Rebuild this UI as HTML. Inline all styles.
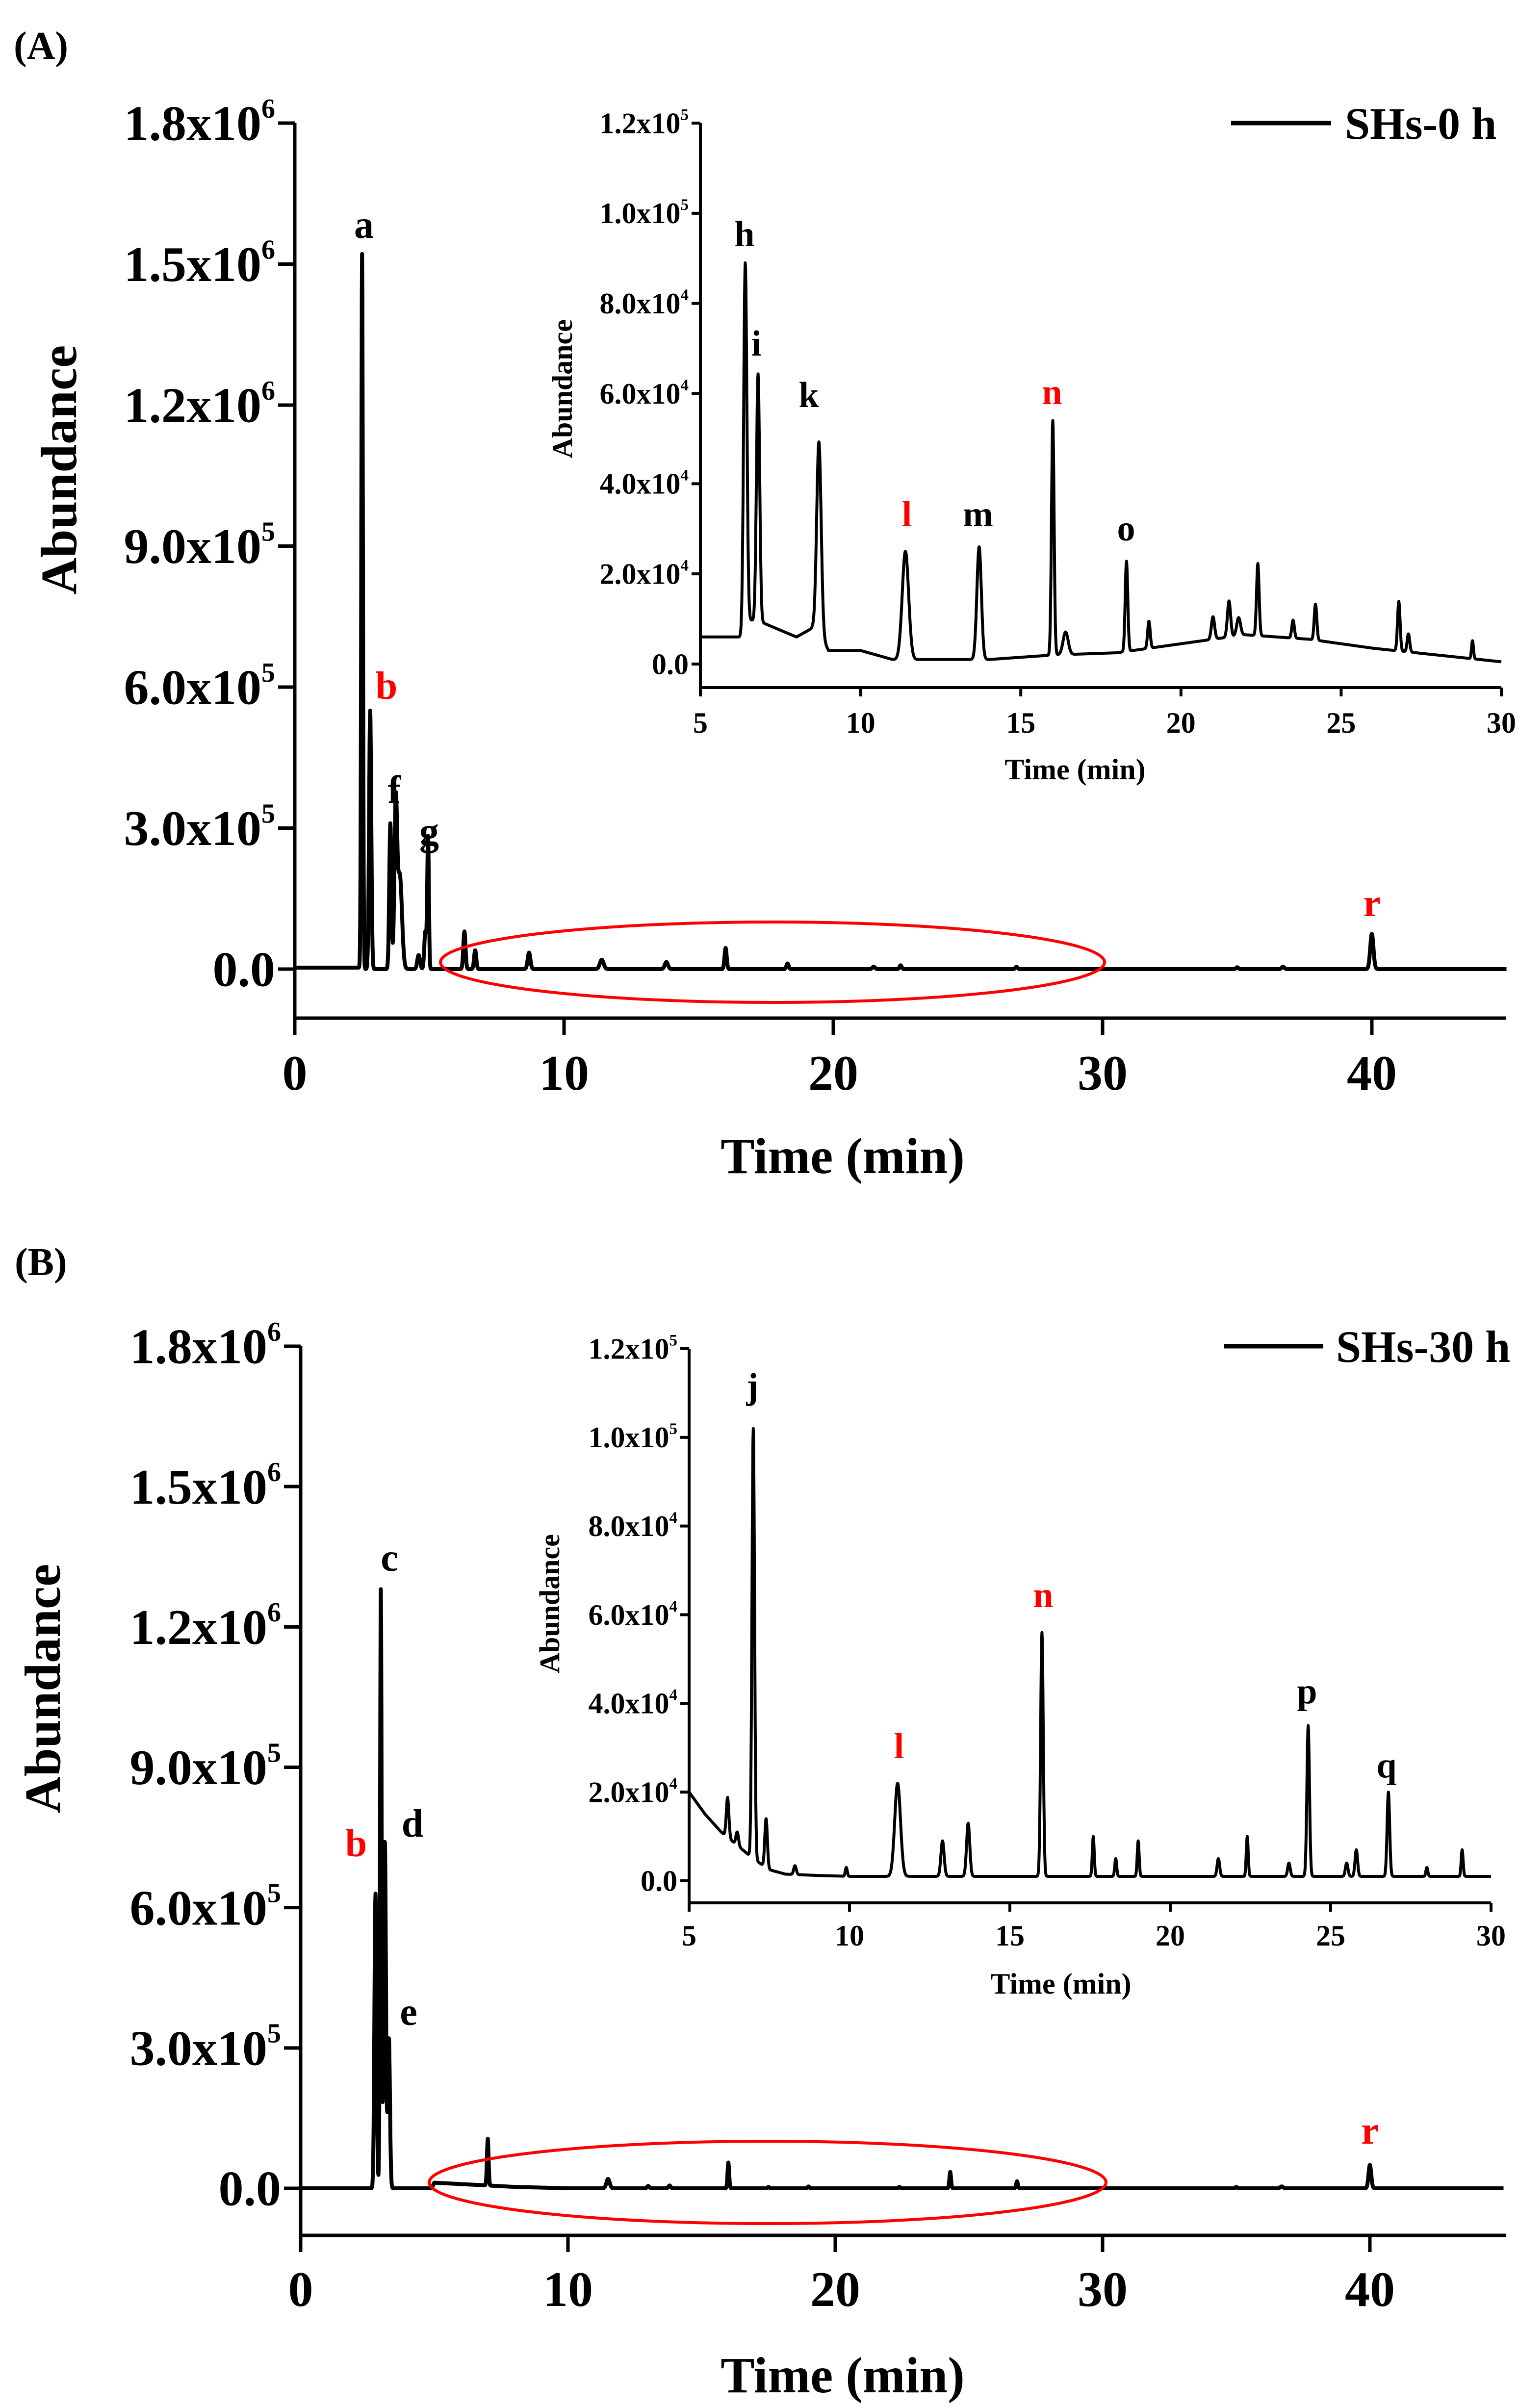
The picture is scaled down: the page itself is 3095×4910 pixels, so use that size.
<!DOCTYPE html>
<html><head><meta charset="utf-8"><style>
html,body{margin:0;padding:0;background:#fff;}
svg{display:block;}
text{font-family:"Liberation Serif",serif;font-weight:bold;}
</style></head><body>
<svg id="fig" width="3095" height="4910" viewBox="0 0 3095 4910" xmlns="http://www.w3.org/2000/svg">
<rect x="0" y="0" width="3095" height="4910" fill="#fff"/>
</svg>
<script>
// ---------- DATA ----------
// Panel A main (abundance units 1e5)
const mainA_peakTimes   = [2.5, 2.8, 3.55, 3.75, 3.9, 4.6, 4.85, 4.95, 6.3, 6.7, 8.7, 11.4, 13.8, 16.0, 18.3, 21.5, 22.5, 26.8, 35.0, 36.7, 40.0];
const mainA_peakHeights = [15.2, 5.5, 3.1, 3.4, 2.0, 0.3, 0.8, 2.8, 0.8, 0.4, 0.35, 0.2, 0.15, 0.45, 0.12, 0.05, 0.08, 0.05, 0.04, 0.05, 0.75];
const mainA_peakWidths  = [0.03, 0.04, 0.04, 0.05, 0.08, 0.05, 0.04, 0.03, 0.04, 0.04, 0.05, 0.07, 0.06, 0.04, 0.04, 0.05, 0.04, 0.04, 0.04, 0.05, 0.06];
const mainA_baseTimes   = [0, 2.4, 2.6, 45];
const mainA_baseValues  = [0.03, 0.03, 0.0, 0.0];
// Panel A inset (units 1e4)
const insetA_peakTimes   = [6.4, 6.8, 8.7, 11.4, 13.7, 16.0, 16.4, 18.3, 19.0, 21.0, 21.5, 21.8, 22.4, 23.5, 24.2, 26.8, 27.1, 29.1];
const insetA_peakHeights = [8.1, 5.5, 4.3, 2.4, 2.5, 5.2, 0.5, 2.0, 0.6, 0.5, 0.8, 0.4, 1.6, 0.4, 0.8, 1.1, 0.4, 0.4];
const insetA_peakWidths  = [0.05, 0.05, 0.07, 0.1, 0.07, 0.04, 0.08, 0.04, 0.04, 0.05, 0.05, 0.06, 0.04, 0.04, 0.04, 0.04, 0.04, 0.03];
const insetA_baseTimes   = [5, 6.35, 6.45, 7, 8, 8.5, 8.85, 9, 10, 11, 12, 14, 16, 18, 20, 22, 24, 26, 28, 30];
const insetA_baseValues  = [0.6, 0.6, 1.0, 0.9, 0.6, 0.8, 0.5, 0.3, 0.3, 0.1, 0.1, 0.1, 0.2, 0.25, 0.45, 0.65, 0.55, 0.35, 0.2, 0.05];
// Panel B main (units 1e5)
const mainB_peakTimes   = [2.8, 3.0, 3.15, 3.3, 7.0, 11.5, 13.0, 13.8, 16.0, 17.5, 19.0, 22.4, 24.3, 26.8, 35.0, 36.7, 40.0];
const mainB_peakHeights = [6.3, 12.8, 7.4, 3.2, 1.0, 0.2, 0.05, 0.06, 0.55, 0.03, 0.04, 0.03, 0.35, 0.15, 0.03, 0.04, 0.5];
const mainB_peakWidths  = [0.04, 0.03, 0.04, 0.04, 0.03, 0.06, 0.04, 0.04, 0.03, 0.03, 0.03, 0.03, 0.03, 0.03, 0.03, 0.05, 0.05];
const mainB_baseTimes   = [0, 4.9, 5.0, 8, 10, 45];
const mainB_baseValues  = [0, 0, 0.12, 0.03, 0, 0];
// Panel B inset (units 1e4)
const insetB_peakTimes   = [6.2, 6.5, 7.0, 7.4, 8.3, 9.9, 11.5, 12.9, 13.7, 16.0, 17.6, 18.3, 19.0, 21.5, 22.4, 23.7, 24.3, 25.5, 25.8, 26.8, 28.0, 29.1];
const insetB_peakHeights = [0.9, 0.3, 9.7, 1.1, 0.2, 0.2, 2.1, 0.8, 1.2, 5.5, 0.9, 0.4, 0.8, 0.4, 0.9, 0.3, 3.4, 0.3, 0.6, 1.9, 0.2, 0.6];
const insetB_peakWidths  = [0.04, 0.04, 0.04, 0.04, 0.04, 0.03, 0.09, 0.05, 0.05, 0.04, 0.03, 0.03, 0.03, 0.04, 0.03, 0.04, 0.04, 0.04, 0.04, 0.04, 0.03, 0.03];
const insetB_baseTimes   = [5, 5.5, 6, 6.5, 7, 7.5, 8, 9, 10, 12, 30];
const insetB_baseValues  = [2.0, 1.5, 1.1, 0.8, 0.5, 0.25, 0.15, 0.12, 0.1, 0.1, 0.1];

const mainTickValues = [0, 3, 6, 9, 12, 15, 18];           // 1e5 units
const mainTickLabels = [["0.0",""],["3.0x10","5"],["6.0x10","5"],["9.0x10","5"],["1.2x10","6"],["1.5x10","6"],["1.8x10","6"]];
const mainXTicks = [0, 10, 20, 30, 40];
const insetTickValues = [0, 2, 4, 6, 8, 10, 12];          // 1e4 units
const insetTickLabels = [["0.0",""],["2.0x10","4"],["4.0x10","4"],["6.0x10","4"],["8.0x10","4"],["1.0x10","5"],["1.2x10","5"]];
const insetXTicks = [5, 10, 15, 20, 25, 30];

// ---------- DRAWING ----------
const NS = "http://www.w3.org/2000/svg";
const svg = document.getElementById("fig");
function mk(tag, attrs, parent){
  const e = document.createElementNS(NS, tag);
  for (const k in attrs) e.setAttribute(k, attrs[k]);
  (parent||svg).appendChild(e);
  return e;
}
function txt(x, y, s, size, parent, anchor, color){
  const t = mk("text", {x:x, y:y, "font-size":size, "text-anchor":anchor||"start", style:"fill:"+(color||"#000")}, parent);
  t.textContent = s;
  return t;
}
function interp(ts, vs, t){
  if (t <= ts[0]) return vs[0];
  for (let i=1;i<ts.length;i++){
    if (t <= ts[i]){ const f=(t-ts[i-1])/(ts[i]-ts[i-1]); return vs[i-1]+f*(vs[i]-vs[i-1]); }
  }
  return vs[vs.length-1];
}
function signal(t, pt, ph, pw, bt, bv){
  let v = interp(bt, bv, t);
  for (let i=0;i<pt.length;i++){ const d=(t-pt[i])/pw[i]; if (Math.abs(d)<6) v += ph[i]*Math.exp(-0.5*d*d); }
  return v;
}

function drawChart(g, c){
  const X = t => c.x0 + (t - c.t0)/(c.t1 - c.t0)*(c.xEnd - c.x0);
  const Y = v => c.yBase - v/c.vMax*(c.yBase - c.yTop);
  const la = mk("line",{x1:c.x0,y1:c.yTop,x2:c.x0,y2:c.axisBottom+c.tl,stroke:"#000","stroke-width":c.aw},g);
  
  
  const ba = mk("line",{x1:c.x0-c.aw/2,y1:c.axisBottom,x2:c.axisRight,y2:c.axisBottom,stroke:"#000","stroke-width":c.aw},g);
  
  
  c.yTicks.forEach((v,i)=>{
    const y = Y(v);
    mk("line",{x1:c.x0-c.tl,y1:y,x2:c.x0,y2:y,stroke:"#000","stroke-width":c.aw},g);
    const lab = c.yLabels[i];
    const t = mk("text",{x:c.x0-c.tl-6,y:y+c.fs*0.34,"font-size":c.fs,"text-anchor":"end",style:"fill:#000"},g);
    
    
    const s1 = mk("tspan",{},t); s1.textContent = lab[0];
    if (lab[1]){ const s2 = mk("tspan",{dy:-c.fs*0.45,"font-size":c.fs*0.55},t); s2.textContent = lab[1]; }
  });
  c.xTicks.forEach(v=>{
    const x = X(v);
    mk("line",{x1:x,y1:c.axisBottom,x2:x,y2:c.axisBottom+c.tl,stroke:"#000","stroke-width":c.aw},g);
    const t = txt(x, c.xLabY, String(v), c.fs, g, "middle");
    
    
  });
  let d = "";
  for (let t=c.t0; t<=c.t1+1e-9; t+=c.step){
    const v = signal(t, c.pt, c.ph, c.pw, c.bt, c.bv);
    d += (d ? "L" : "M") + X(t).toFixed(1) + " " + Y(v).toFixed(1);
  }
  const p = mk("path",{d:d,fill:"none",stroke:"#000","stroke-width":c.lw,"stroke-linejoin":"round"},g);
  
  
  return {X,Y};
}

function addLabel(g, x, y, s, size, red, name){
  const t = txt(x, y, s, size, g, "middle", red ? "#ff0000" : "#000");
  
  
}

// ===== Panel A =====
const gA = mk("g",{});


const pA = txt(28, 120, "(A)", 80, gA);  
drawChart(gA, {name:"main-a", x0:601, xEnd:601+45*54.9, t0:0, t1:45, yBase:1976, yTop:251, vMax:18, axisBottom:2076, axisRight:3071,
  aw:7, tl:34, fs:102, lw:8, step:0.01, yTicks:mainTickValues, yLabels:mainTickLabels, xTicks:mainXTicks, xLabY:2222,
  pt:mainA_peakTimes, ph:mainA_peakHeights, pw:mainA_peakWidths, bt:mainA_baseTimes, bv:mainA_baseValues});
const ayA = txt(0,0,"Abundance",104,gA,"middle"); ayA.setAttribute("transform","translate(155,958) rotate(-90)");
 
const axA = txt(1718, 2392, "Time (min)", 104, gA, "middle");  
addLabel(gA, 742, 485, "a", 80, false, "peak-label-a");
addLabel(gA, 788, 1425, "b", 80, true, "peak-label-b");
addLabel(gA, 804, 1637, "f", 80, false, "peak-label-f");
addLabel(gA, 875, 1722, "g", 80, false, "peak-label-g");
addLabel(gA, 2797, 1868, "r", 80, true, "peak-label-r");
const elA = mk("ellipse",{cx:1575,cy:1962,rx:677,ry:82,fill:"none",stroke:"#ff0000","stroke-width":6},gA);
 
const lgA = mk("line",{x1:2510,y1:251,x2:2714,y2:251,stroke:"#000","stroke-width":9},gA);
 
const ltA = txt(2742, 283, "SHs-0 h", 92, gA);  
// inset A
drawChart(gA, {name:"inset-a", x0:1428, xEnd:3061, t0:5, t1:30, yBase:1354, yTop:251, vMax:12, axisBottom:1402, axisRight:3061,
  aw:6, tl:18, fs:60, lw:6, step:0.01, yTicks:insetTickValues, yLabels:insetTickLabels, xTicks:insetXTicks, xLabY:1494,
  pt:insetA_peakTimes, ph:insetA_peakHeights, pw:insetA_peakWidths, bt:insetA_baseTimes, bv:insetA_baseValues});
const iyA = txt(0,0,"Abundance",58,gA,"middle"); iyA.setAttribute("transform","translate(1166,793) rotate(-90)");
 
const ixA = txt(2192, 1589, "Time (min)", 60, gA, "middle");  
addLabel(gA, 1518, 502, "h", 74, false, "peak-label-h");
addLabel(gA, 1542, 725, "i", 74, false, "peak-label-i");
addLabel(gA, 1649, 830, "k", 74, false, "peak-label-k");
addLabel(gA, 1849, 1073, "l", 74, true, "peak-label-l");
addLabel(gA, 1994, 1073, "m", 74, false, "peak-label-m");
addLabel(gA, 2145, 824, "n", 74, true, "peak-label-n");
addLabel(gA, 2296, 1102, "o", 74, false, "peak-label-o");

// ===== Panel B =====
const gB = mk("g",{});


const pB = txt(30, 2600, "(B)", 80, gB);  
drawChart(gB, {name:"main-b", x0:613, xEnd:613+45*54.5, t0:0, t1:45, yBase:4462, yTop:2745, vMax:18, axisBottom:4558, axisRight:3071,
  aw:7, tl:34, fs:102, lw:8, step:0.01, yTicks:mainTickValues, yLabels:mainTickLabels, xTicks:mainXTicks, xLabY:4702,
  pt:mainB_peakTimes, ph:mainB_peakHeights, pw:mainB_peakWidths, bt:mainB_baseTimes, bv:mainB_baseValues});
const ayB = txt(0,0,"Abundance",104,gB,"middle"); ayB.setAttribute("transform","translate(122,3443) rotate(-90)");
 
const axB = txt(1718, 4878, "Time (min)", 104, gB, "middle");  
addLabel(gB, 794, 3203, "c", 80, false, "peak-label-c");
addLabel(gB, 726, 3785, "b", 80, true, "peak-label-b2");
addLabel(gB, 841, 3745, "d", 80, false, "peak-label-d");
addLabel(gB, 833, 4129, "e", 80, false, "peak-label-e");
addLabel(gB, 2793, 4371, "r", 80, true, "peak-label-r2");
const elB = mk("ellipse",{cx:1565,cy:4450,rx:690,ry:84,fill:"none",stroke:"#ff0000","stroke-width":6},gB);
 
const lgB = mk("line",{x1:2496,y1:2745,x2:2698,y2:2745,stroke:"#000","stroke-width":9},gB);
 
const ltB = txt(2724, 2777, "SHs-30 h", 92, gB);  
// inset B
drawChart(gB, {name:"inset-b", x0:1405, xEnd:3040, t0:5, t1:30, yBase:3835, yTop:2750, vMax:12, axisBottom:3880, axisRight:3040,
  aw:6, tl:18, fs:60, lw:6, step:0.01, yTicks:insetTickValues, yLabels:insetTickLabels, xTicks:insetXTicks, xLabY:3967,
  pt:insetB_peakTimes, ph:insetB_peakHeights, pw:insetB_peakWidths, bt:insetB_baseTimes, bv:insetB_baseValues});
const iyB = txt(0,0,"Abundance",58,gB,"middle"); iyB.setAttribute("transform","translate(1140,3270) rotate(-90)");
 
const ixB = txt(2163, 4065, "Time (min)", 60, gB, "middle");  
addLabel(gB, 1534, 2851, "j", 74, false, "peak-label-j");
addLabel(gB, 1833, 3585, "l", 74, true, "peak-label-l2");
addLabel(gB, 2127, 3277, "n", 74, true, "peak-label-n2");
addLabel(gB, 2665, 3473, "p", 74, false, "peak-label-p");
addLabel(gB, 2827, 3624, "q", 74, false, "peak-label-q");
</script>
</body></html>
